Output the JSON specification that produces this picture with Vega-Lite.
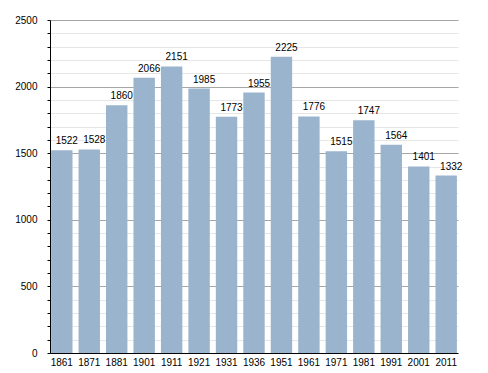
{
  "$schema": "https://vega.github.io/schema/vega-lite/v6.json",
  "autosize": "none",
  "width": 408,
  "height": 333,
  "padding": {"left": 50, "top": 20, "right": 30, "bottom": 20},
  "background": "white",
  "data": {"values": [
    {"year": "1861", "pop": 1522},
    {"year": "1871", "pop": 1528},
    {"year": "1881", "pop": 1860},
    {"year": "1901", "pop": 2066},
    {"year": "1911", "pop": 2151},
    {"year": "1921", "pop": 1985},
    {"year": "1931", "pop": 1773},
    {"year": "1936", "pop": 1955},
    {"year": "1951", "pop": 2225},
    {"year": "1961", "pop": 1776},
    {"year": "1971", "pop": 1515},
    {"year": "1981", "pop": 1747},
    {"year": "1991", "pop": 1564},
    {"year": "2001", "pop": 1401},
    {"year": "2011", "pop": 1332}
  ]},
  "config": {
    "view": {"stroke": null},
    "font": "Liberation Sans"
  },
  "encoding": {
    "x": {
      "field": "year", "type": "nominal", "sort": null,
      "scale": {"paddingInner": 0.22, "paddingOuter": 0.04},
      "axis": {
        "title": null, "labelAngle": 0, "ticks": false, "labelPadding": 4,
        "domainColor": "black", "labelColor": "black", "labelFontSize": 10,
        "labelFont": "Liberation Sans", "grid": false
      }
    },
    "y": {
      "field": "pop", "type": "quantitative",
      "scale": {"domain": [0, 2500], "nice": false},
      "axis": {
        "title": null,
        "values": [0,100,200,300,400,500,600,700,800,900,1000,1100,1200,1300,1400,1500,1600,1700,1800,1900,2000,2100,2200,2300,2400,2500],
        "labelExpr": "datum.value % 500 === 0 ? datum.value : ''",
        "grid": true,
        "gridColor": {"condition": {"test": "datum.value % 500 === 0", "value": "#a6a6a6"}, "value": "#e6e6e6"},
        "tickSize": 3, "tickColor": "black", "domainColor": "black",
        "labelPadding": 10, "labelColor": "black", "labelFontSize": 10,
        "labelFont": "Liberation Sans"
      }
    }
  },
  "layer": [
    {"mark": {"type": "bar", "color": "#9bb4cd"}},
    {
      "mark": {"type": "text", "baseline": "bottom", "dy": -4, "dx": 5, "fontSize": 10, "color": "black", "font": "Liberation Sans"},
      "encoding": {"text": {"field": "pop", "type": "quantitative"}}
    }
  ]
}
